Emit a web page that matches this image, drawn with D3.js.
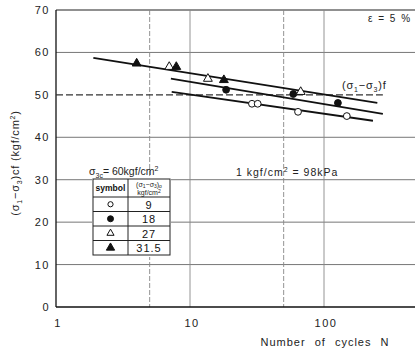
<!DOCTYPE html>
<html><head><meta charset="utf-8">
<script src="https://cdn.jsdelivr.net/npm/d3@7"></script>
<style>
body{margin:0;background:#fff;}
svg{display:block;font-family:"Liberation Sans",Arial,sans-serif;}
</style></head>
<body>
<svg id="c" width="415" height="353"></svg>
<script>
// ---- data ----
const yTicks = [0,10,20,30,40,50,60,70];
const xTickLabels = [1,10,100];
const xGrid = [5,10,50,100];
const openCircles = [[29,47.9],[32,47.9],[64,46.0],[148,45.0]];      // 9
const filledCircles = [[18.6,51.2],[59,50.2],[127,48.1]];              // 18
const openTriangles = [[7,56.6],[13.6,53.8],[67,50.7]];                // 27
const filledTriangles = [[4,57.4],[7.9,56.6],[17.9,53.5]];             // 31.5
const lineTop = [[1.9,58.7],[250,48.1]];
const lineMid = [[7.2,53.8],[275,45.5]];
const lineBot = [[7.3,50.7],[232,43.9]];
const failureLevel = [[1,50],[275,50]];
const legendRows = [
  {sym:"oc", label:"9"},
  {sym:"fc", label:"18"},
  {sym:"ot", label:"27"},
  {sym:"ft", label:"31.5"}
];

const svg = d3.select("#c");
const W = 415;
const x = d3.scaleLog().domain([1,1000]).range([56,458]);
const y = d3.scaleLinear().domain([0,70]).range([307,10]);

// grid
const g = svg.append("g");
g.selectAll(".hg").data(yTicks.filter(d=>d!==0 && d!==50)).enter().append("line")
  .attr("x1",x(1)).attr("x2",W).attr("y1",d=>y(d)).attr("y2",d=>y(d))
  .attr("stroke",d=>d===70?"#222":"#666").attr("stroke-width",d=>d===70?1.2:0.9);
g.selectAll(".vg").data(xGrid).enter().append("line")
  .attr("x1",d=>x(d)).attr("x2",d=>x(d)).attr("y1",y(70)).attr("y2",y(0))
  .attr("stroke","#888").attr("stroke-width",0.9)
  .attr("stroke-dasharray",d=>(d===5||d===50)?"5,2":null);
// axes lines
svg.append("line").attr("x1",x(1)).attr("x2",x(1)).attr("y1",y(70)).attr("y2",y(0)).attr("stroke","#111").attr("stroke-width",1.3);
svg.append("line").attr("x1",x(1)).attr("x2",W).attr("y1",y(0)).attr("y2",y(0)).attr("stroke","#111").attr("stroke-width",1.3);

// y tick labels
svg.selectAll(".yl").data(yTicks).enter().append("text")
  .attr("x",50).attr("y",d=>y(d)+4).attr("text-anchor","end")
  .attr("font-size",11).attr("letter-spacing",1.5).attr("fill","#222").text(d=>d);
// x tick labels
svg.selectAll(".xl").data(xTickLabels).enter().append("text")
  .attr("x",d=>x(d)+2).attr("y",327).attr("text-anchor","middle")
  .attr("font-size",11).attr("letter-spacing",1.5).attr("fill","#222").text(d=>d);
// x title
svg.append("text").attr("x",325).attr("y",346).attr("text-anchor","middle")
  .attr("font-size",11).attr("letter-spacing",1).attr("word-spacing",5).attr("fill","#222")
  .text("Number of cycles N");
// y title
const yt = svg.append("text").attr("transform","translate(19,163) rotate(-90)")
  .attr("text-anchor","middle").attr("font-size",11).attr("letter-spacing",0.8).attr("fill","#222");
yt.append("tspan").text("(σ");
yt.append("tspan").attr("font-size",7).attr("dy",3).text("1");
yt.append("tspan").attr("dy",-3).text("−σ");
yt.append("tspan").attr("font-size",7).attr("dy",3).text("3");
yt.append("tspan").attr("dy",-3).text(")cf  (kgf/cm");
yt.append("tspan").attr("font-size",7).attr("dy",-4).text("2");
yt.append("tspan").attr("dy",4).text(")");

// dashed failure line
const ln = d3.line().x(d=>x(d[0])).y(d=>y(d[1]));
svg.append("path").attr("d",ln(failureLevel)).attr("fill","none")
  .attr("stroke","#333").attr("stroke-width",1.3).attr("stroke-dasharray","7,3");
const fl = svg.append("text").attr("x",342).attr("y",89).attr("font-size",11).attr("letter-spacing",0.8).attr("fill","#222");
fl.append("tspan").text("(σ");
fl.append("tspan").attr("font-size",7).attr("dy",3).text("1");
fl.append("tspan").attr("dy",-3).text("−σ");
fl.append("tspan").attr("font-size",7).attr("dy",3).text("3");
fl.append("tspan").attr("dy",-3).text(")f");

// regression lines
[lineTop,lineMid,lineBot].forEach(l=>{
  svg.append("path").attr("d",ln(l)).attr("fill","none").attr("stroke","#111").attr("stroke-width",1.8);
});

// markers
const tri = d3.symbol().type(d3.symbolTriangle).size(34);
function drawPts(data, type, filled){
  if(type==="c"){
    svg.selectAll(null).data(data).enter().append("circle")
      .attr("cx",d=>x(d[0])).attr("cy",d=>y(d[1])).attr("r",3.4)
      .attr("fill",filled?"#111":"#fff").attr("stroke","#111").attr("stroke-width",1);
  } else {
    svg.selectAll(null).data(data).enter().append("path")
      .attr("d",tri).attr("transform",d=>`translate(${x(d[0])},${y(d[1])})`)
      .attr("fill",filled?"#111":"#fff").attr("stroke","#111").attr("stroke-width",1);
  }
}
drawPts(openCircles,"c",false);
drawPts(filledCircles,"c",true);
drawPts(openTriangles,"t",false);
drawPts(filledTriangles,"t",true);

// annotations
svg.append("text").attr("x",368).attr("y",22).attr("font-size",10).attr("letter-spacing",1).attr("word-spacing",1).attr("fill","#222").text("ε = 5 %");
const kt = svg.append("text").attr("x",236).attr("y",176).attr("font-size",10.5).attr("letter-spacing",1).attr("fill","#222");
kt.append("tspan").text("1 kgf/cm");
kt.append("tspan").attr("font-size",7).attr("dy",-4).text("2");
kt.append("tspan").attr("dy",4).text(" = 98kPa");

// legend table
const L = {x0:93, x1:128, x2:170, top:179, hb:197, rh:14.5};
svg.append("rect").attr("x",L.x0-1).attr("y",L.top-2).attr("width",L.x2-L.x0+2).attr("height",L.hb+L.rh*4-L.top+4).attr("fill","#fff");
const ht = svg.append("text").attr("x",89).attr("y",175).attr("font-size",10.5).attr("fill","#222");
ht.append("tspan").text("σ");
ht.append("tspan").attr("font-size",7).attr("dy",3).text("3c");
ht.append("tspan").attr("dy",-3).text("= 60kgf/cm");
ht.append("tspan").attr("font-size",7).attr("dy",-4).text("2");
const tb = svg.append("g").attr("stroke","#222").attr("stroke-width",1);
tb.append("rect").attr("x",L.x0).attr("y",L.top).attr("width",L.x2-L.x0).attr("height",L.hb+L.rh*4-L.top).attr("fill","none");
tb.append("line").attr("x1",L.x1).attr("x2",L.x1).attr("y1",L.top).attr("y2",L.hb+L.rh*4);
tb.selectAll(null).data(d3.range(4)).enter().append("line")
  .attr("x1",L.x0).attr("x2",L.x2).attr("y1",i=>L.hb+L.rh*i).attr("y2",i=>L.hb+L.rh*i);
svg.append("text").attr("x",(L.x0+L.x1)/2).attr("y",191).attr("text-anchor","middle")
  .attr("font-size",8.5).attr("font-weight","bold").attr("fill","#111").text("symbol");
const h2 = svg.append("text").attr("x",(L.x1+L.x2)/2).attr("y",186.5).attr("text-anchor","middle").attr("font-size",7).attr("fill","#222");
h2.append("tspan").text("(σ");
h2.append("tspan").attr("font-size",5).attr("dy",1.5).text("1");
h2.append("tspan").attr("dy",-1.5).text("−σ");
h2.append("tspan").attr("font-size",5).attr("dy",1.5).text("3");
h2.append("tspan").attr("dy",-1.5).text(")");
h2.append("tspan").attr("font-size",5).attr("dy",1.5).text("o");
const h3 = svg.append("text").attr("x",(L.x1+L.x2)/2).attr("y",195).attr("text-anchor","middle").attr("font-size",7).attr("fill","#222");
h3.append("tspan").text("kgf/cm");
h3.append("tspan").attr("font-size",5).attr("dy",-2.5).text("2");
const rows = svg.selectAll(".lr").data(legendRows).enter().append("g")
  .attr("transform",(d,i)=>`translate(0,${L.hb+L.rh*i+L.rh/2})`);
rows.each(function(d){
  const s = d3.select(this), cx=(L.x0+L.x1)/2;
  if(d.sym[1]==="c"){
    s.append("circle").attr("cx",cx).attr("cy",0).attr("r",d.sym[0]==="f"?3:2.6)
      .attr("fill",d.sym[0]==="f"?"#111":"#fff").attr("stroke","#111").attr("stroke-width",1);
  } else {
    s.append("path").attr("d",d3.symbol().type(d3.symbolTriangle).size(d.sym[0]==="f"?30:22)())
      .attr("transform",`translate(${cx},0)`)
      .attr("fill",d.sym[0]==="f"?"#111":"#fff").attr("stroke","#111").attr("stroke-width",1);
  }
  s.append("text").attr("x",(L.x1+L.x2)/2).attr("y",4.5).attr("text-anchor","middle")
    .attr("font-size",11).attr("letter-spacing",1).attr("fill","#111").text(d.label);
});
</script>
</body></html>
